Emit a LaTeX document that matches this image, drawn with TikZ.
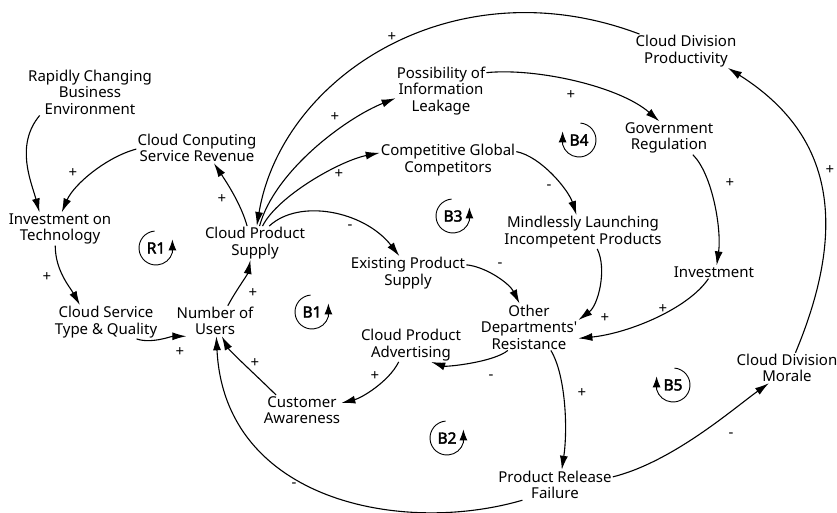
\documentclass[tikz,border=0pt]{standalone}
\usepackage{fontspec}
\setmainfont{Noto Sans}[AutoFakeBold=2.5]
\usetikzlibrary{arrows.meta}
\begin{document}
\begin{tikzpicture}[x=1pt,y=-1pt,
  var/.style={align=center, inner sep=1pt, font=\fontsize{15}{16.5}\selectfont},
  link/.style={line width=1.1pt, -{Latex[length=14pt,width=8pt]}},
  pol/.style={inner sep=0pt, font=\fontsize{15}{16.5}\selectfont},
  loopc/.style={line width=0.9pt, -{Latex[length=11pt,width=8pt]}},
  looplbl/.style={font=\bfseries\fontsize{15.5}{15.5}\selectfont, inner sep=0pt}]
\useasboundingbox[fill=white] (0,0) rectangle (837,513);
% variables
\node[var] (rcb) at (90,92) {Rapidly Changing\\Business\\Environment};
\node[var] (ccsr) at (197,148) {Cloud Conputing\\Service Revenue};
\node[var] (iot) at (60,229) {Investment on\\Technology};
\node[var] (cps) at (255,243) {Cloud Product\\Supply};
\node[var] (cstq) at (106,322) {Cloud Service\\Type \& Quality};
\node[var] (nou) at (215,321) {Number of\\Users};
\node[var] (eps) at (408,273) {Existing Product\\Supply};
\node[var] (cpa) at (411,345) {Cloud Product\\Advertising};
\node[var] (ca) at (302,410) {Customer\\Awareness};
\node[var] (odr) at (529,327) {Other\\Departments\textquotesingle\\Resistance};
\node[var] (prf) at (555,485) {Product Release\\Failure};
\node[var] (cdm) at (787,368) {Cloud Division\\Morale};
\node[var] (inv) at (714,272) {Investment};
\node[var] (mlip) at (583,232) {Mindlessly Launching\\Incompetent Products};
\node[var] (cgc) at (448,160) {Competitive Global\\Competitors};
\node[var] (pil) at (441,91) {Possibility of\\Information\\Leakage};
\node[var] (gr) at (669,138) {Government\\Regulation};
\node[var] (cdp) at (686,51) {Cloud Division\\Productivity};
% links
\draw[link] (rcb.205) .. controls +(-25,30) and +(-8,-30) .. (iot.141);
\draw[link] (ccsr.181) .. controls +(-30,8) and +(12,-28) .. (iot.84);
\draw[link] (cps.115) .. controls +(-6,-22) and +(12,18) .. (ccsr.318);
\draw[link] (iot.254) .. controls +(0,25) and +(-10,-18) .. (cstq.147);
\draw[link] (cstq.331) .. controls +(15,5) and +(-15,0) .. (nou.208);
\draw[link] (nou.50) .. controls +(8,-15) and +(-3,15) .. (cps.255);
\draw[link] (cps.50) .. controls +(30,-28) and +(-35,-45) .. (eps.117);
\draw[link] (cps.75) .. controls +(15,-55) and +(-50,20) .. (pil.189);
\draw[link] (cps.66) .. controls +(15,-30) and +(-40,8) .. (cgc.174);
\draw[link] (cdp.160) .. controls +(-185,-70) and +(25,-150) .. (cps.84);
\draw[link] (pil.22) .. controls +(50,-5) and +(-40,-35) .. (gr.120);
\draw[link] (cgc.7) .. controls +(25,5) and +(-8,-25) .. (mlip.111);
\draw[link] (gr.325) .. controls +(20,20) and +(5,-35) .. (inv.68);
\draw[link] (mlip.310) .. controls +(10,20) and +(20,-15) .. (odr.8);
\draw[link] (inv.230) .. controls +(-20,30) and +(50,-5) .. (odr.347);
\draw[link] (eps.8) .. controls +(20,2) and +(-10,-20) .. (odr.112);
\draw[link] (odr.228) .. controls +(-15,12) and +(15,5) .. (cpa.320);
\draw[link] (cpa.234) .. controls +(-10,20) and +(20,-5) .. (ca.10);
\draw[link] (ca.150) .. controls +(-15,-15) and +(8,15) .. (nou.294);
\draw[link] (prf.205) .. controls +(-120,35) and +(8,165) .. (nou.275);
\draw[link] (odr.313) .. controls +(15,25) and +(6,-40) .. (prf.66);
\draw[link] (prf.8) .. controls +(60,-15) and +(-35,25) .. (cdm.220);
\draw[link] (cdm.61) .. controls +(59,-141) and +(95,60) .. (cdp.338);
% polarities
\node[pol] (p1) at (73,173) {+};
\node[pol] (p2) at (222,199) {+};
\node[pol] (p3) at (335,117) {+};
\node[pol] (p4) at (339,174) {+};
\node[pol] (p5) at (392,37) {+};
\node[pol] (p6) at (350,227) {-};
\node[pol] (p7) at (47,277) {+};
\node[pol] (p8) at (253,293) {+};
\node[pol] (p9) at (180,352) {+};
\node[pol] (p10) at (255,363) {+};
\node[pol] (p11) at (375,376) {+};
\node[pol] (p12) at (294,485) {-};
\node[pol] (p13) at (571,95) {+};
\node[pol] (p14) at (549,187) {-};
\node[pol] (p15) at (730,183) {+};
\node[pol] (p16) at (830,170) {+};
\node[pol] (p17) at (500,265) {-};
\node[pol] (p18) at (605,318) {+};
\node[pol] (p19) at (663,309) {+};
\node[pol] (p20) at (491,377) {-};
\node[pol] (p21) at (582,393) {+};
\node[pol] (p22) at (731,435) {-};
% loops
\begin{scope}[shift={(156,248)},y=1pt]
\node[looplbl] (R1) at (0,0) {R1};
\draw[loopc] (95:17) arc[start angle=95,end angle=345,radius=17] -- ++(0,13);
\end{scope}
\begin{scope}[shift={(312,312)},y=1pt]
\node[looplbl] (B1) at (0,0) {B1};
\draw[loopc] (95:17) arc[start angle=95,end angle=345,radius=17] -- ++(0,13);
\end{scope}
\begin{scope}[shift={(447,438)},y=1pt]
\node[looplbl] (B2) at (0,0) {B2};
\draw[loopc] (95:17) arc[start angle=95,end angle=345,radius=17] -- ++(0,13);
\end{scope}
\begin{scope}[shift={(453,216)},y=1pt]
\node[looplbl] (B3) at (0,0) {B3};
\draw[loopc] (95:17) arc[start angle=95,end angle=345,radius=17] -- ++(0,13);
\end{scope}
\begin{scope}[shift={(579,140)},y=1pt]
\node[looplbl] (B4) at (0,0) {B4};
\draw[loopc] (85:17) arc[start angle=85,end angle=-165,radius=17] -- ++(0,13);
\end{scope}
\begin{scope}[shift={(673,385)},y=1pt]
\node[looplbl] (B5) at (0,0) {B5};
\draw[loopc] (85:17) arc[start angle=85,end angle=-165,radius=17] -- ++(0,13);
\end{scope}
\end{tikzpicture}
\end{document}
